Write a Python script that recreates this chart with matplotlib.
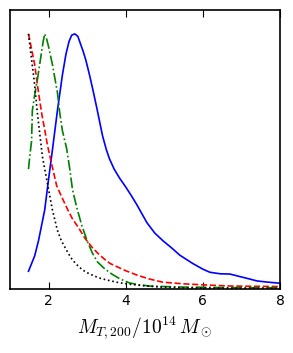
import matplotlib
matplotlib.use("Agg")
import matplotlib.pyplot as plt

# values (normalised so each peak is 1)
mass_blue = [1.48, 1.56, 1.64, 1.74, 1.82, 1.90, 2.00, 2.10, 2.23, 2.36, 2.45, 2.53, 2.60,
             2.68, 2.76, 2.83, 2.90, 2.97, 3.06, 3.15, 3.25, 3.40, 3.50, 3.58, 3.70, 3.84,
             4.00, 4.15, 4.29, 4.42, 4.55, 4.75, 4.96, 5.20, 5.40, 5.74, 6.00, 6.18, 6.45,
             6.70, 6.96, 7.20, 7.40, 7.70, 8.00]
pdf_blue = [0.07, 0.10, 0.13, 0.19, 0.25, 0.31, 0.43, 0.545, 0.70, 0.84, 0.92, 0.97, 0.995,
            1.00, 0.99, 0.96, 0.93, 0.895, 0.84, 0.78, 0.71, 0.60, 0.545, 0.51, 0.47, 0.435,
            0.40, 0.365, 0.33, 0.295, 0.26, 0.22, 0.19, 0.16, 0.133, 0.10, 0.078, 0.066, 0.06,
            0.059, 0.049, 0.04, 0.032, 0.027, 0.023]

mass_red = [1.48, 1.56, 1.64, 1.73, 1.82, 1.90, 1.97, 2.08, 2.21, 2.36, 2.50, 2.62, 2.78,
            2.94, 3.12, 3.28, 3.45, 3.60, 3.77, 4.00, 4.29, 4.60, 4.96, 5.30, 5.58, 6.10,
            6.70, 7.30, 8.00]
pdf_red = [1.00, 0.94, 0.88, 0.78, 0.69, 0.625, 0.565, 0.49, 0.405, 0.355, 0.31, 0.275, 0.24,
           0.20, 0.165, 0.14, 0.117, 0.10, 0.088, 0.072, 0.055, 0.04, 0.027, 0.023, 0.02,
           0.016, 0.012, 0.011, 0.01]

mass_green = [1.48, 1.52, 1.56, 1.58, 1.65, 1.71, 1.77, 1.82, 1.86, 1.90, 1.95, 2.00, 2.10,
              2.23, 2.29, 2.36, 2.47, 2.55, 2.62, 2.73, 2.86, 3.01, 3.14, 3.27, 3.45, 3.64,
              3.85, 4.10, 4.35, 4.62, 5.00, 5.50, 6.50, 8.00]
pdf_green = [0.47, 0.53, 0.58, 0.70, 0.77, 0.82, 0.88, 0.93, 0.97, 1.00, 0.98, 0.95, 0.88,
             0.77, 0.69, 0.62, 0.55, 0.47, 0.39, 0.32, 0.25, 0.185, 0.14, 0.106, 0.08, 0.059,
             0.04, 0.024, 0.017, 0.012, 0.01, 0.008, 0.006, 0.005]

mass_black = [1.48, 1.56, 1.64, 1.71, 1.84, 1.97, 2.10, 2.23, 2.33, 2.42, 2.52, 2.62, 2.75,
              2.88, 3.03, 3.19, 3.35, 3.53, 3.80, 4.10, 4.40, 4.90, 5.50, 6.00, 7.00, 8.00]
pdf_black = [1.00, 0.90, 0.80, 0.69, 0.52, 0.415, 0.31, 0.23, 0.19, 0.165, 0.138, 0.114, 0.093,
             0.075, 0.062, 0.051, 0.042, 0.035, 0.026, 0.019, 0.014, 0.008, 0.005, 0.004, 0.003,
             0.002]

plt.rcParams['mathtext.fontset'] = 'cm'
fig = plt.figure(figsize=(2.93, 3.53), dpi=100)
ax = fig.add_axes([0.034, 0.181, 0.922, 0.791])

ax.plot(mass_blue, pdf_blue, color='b', lw=1.2, ls='-')
ax.plot(mass_red, pdf_red, color='r', lw=1.2, ls='--')
ax.plot(mass_green, pdf_green, color='g', lw=1.2, ls='-.')
ax.plot(mass_black, pdf_black, color='k', lw=1.2, ls=':')

ax.set_xlim(1, 8)
ax.set_ylim(0, 1.094)
ax.set_xticks([2, 4, 6, 8])
ax.set_yticks([])
ax.tick_params(axis='x', direction='in', top=True, length=5, labelsize=10)
for s in ax.spines.values():
    s.set_linewidth(1.2)
ax.set_xlabel(r'$M_{T,200}/10^{14}\,M_\odot$', fontsize=14, labelpad=4)

fig.savefig('out.png', dpi=100)
